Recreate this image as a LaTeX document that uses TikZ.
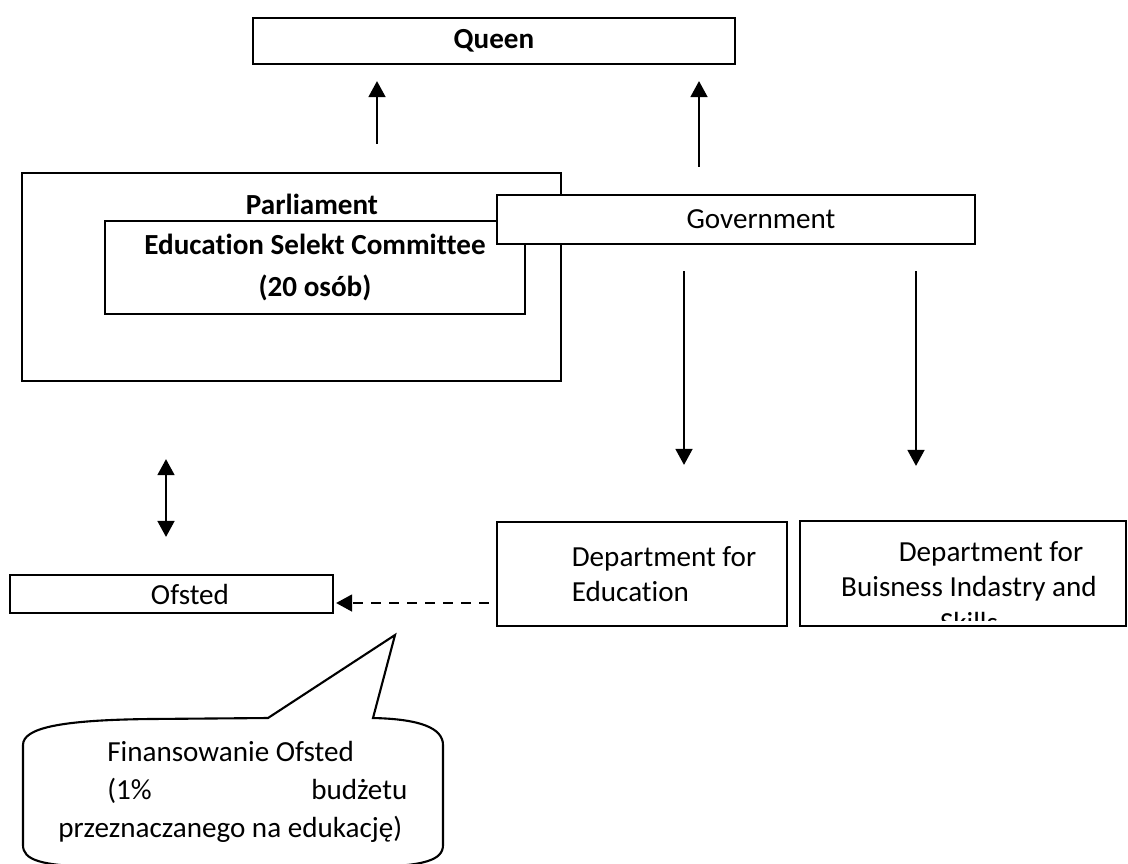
\documentclass[tikz,border=0pt]{standalone}
\usepackage{fontspec}
\setmainfont{Carlito}[Ligatures=NoCommon]
\usetikzlibrary{arrows.meta}

\tikzset{
  box/.style={draw, line width=1.5pt, fill=white, inner sep=0pt},
  arr/.style={-{Triangle[length=0.4cm,width=0.42cm]}, line width=1.6pt},
  dblarr/.style={{Triangle[length=0.4cm,width=0.42cm]}-{Triangle[length=0.4cm,width=0.42cm]}, line width=1.6pt}
}

\begin{document}
\begin{tikzpicture}[x=0.025cm, y=-0.025cm, font=\fontsize{20.7}{25}\selectfont]
	\useasboundingbox (0,0) rectangle (1128,863);
	\clip (0,0) rectangle (1128,863);

	% boxes
	\node[box, minimum width=12.05cm, minimum height=1.15cm, font=\fontsize{20.7}{25}\selectfont\bfseries] (queen) at (494,41) {Queen};
	\node[box, minimum width=13.475cm, minimum height=5.2cm] (parl) at (291.5,277) {};
	\node[font=\fontsize{20.7}{25}\selectfont\bfseries] (parltitle) at (312,204) {Parliament};
	\node[box, minimum width=10.5cm, minimum height=2.325cm, align=center, font=\fontsize{20.7}{30}\selectfont\bfseries] (comm) at (315,267.5) {Education Selekt Committee\\(20 osób)};
	\node[box, minimum width=11.95cm, minimum height=1.225cm] (gov) at (736,219.5) {\hspace*{1.25cm}Government};
	\node[box, minimum width=8.075cm, minimum height=0.95cm] (ofsted) at (171.5,594) {\hspace*{0.925cm}Ofsted};
	\node[box, minimum width=7.25cm, minimum height=2.6cm, align=left] (dedu) at (642,574) {\hspace*{1.1cm}Department for\\\hspace*{1.1cm}Education};
	\node[box, minimum width=8.15cm, minimum height=2.625cm] (dbis) at (963,573.5) {};
	\begin{scope}
		\clip (dbis.north west) rectangle ([shift={(0,-7)}]dbis.south east);
		\node[align=center] (dbistext) at (969,587) {\hspace*{1.1cm}Department for\\Buisness Indastry and\\Skills};
	\end{scope}

	% connectors
	\draw[arr, shorten <=0.7cm, shorten >=0.4cm] (parl.north -| 377,0) -- (queen.south -| 377,0);
	\draw[arr, shorten <=0.675cm, shorten >=0.4cm] (gov.north -| 699,0) -- (queen.south -| 699,0);
	\draw[arr, shorten <=0.65cm, shorten >=1.4cm] (gov.south -| 684,0) -- (dedu.north -| 684,0);
	\draw[arr, shorten <=0.65cm, shorten >=1.35cm] (gov.south -| 916,0) -- (dbis.north -| 916,0);
	\draw[dblarr, shorten <=1.925cm, shorten >=0.925cm] (parl.south -| 166,0) -- (ofsted.north -| 166,0);
	\draw[arr, dash pattern=on 0.25cm off 0.2cm, shorten <=0.175cm, shorten >=0.05cm] (dedu.west |- 0,603) -- (ofsted.east |- 0,603);

	% callout
	\draw[line width=1.5pt, fill=white] (268,718) -- (395,635) -- (373,718)
		.. controls (420,719) and (443,728) .. (443,745) -- (443,845)
		.. controls (443,860) and (425,866) .. (370,867) -- (100,867)
		.. controls (40,866) and (23,860) .. (23,845) -- (23,745)
		.. controls (23,728) and (60,720) .. (150,719) -- cycle;
	\node[align=left, anchor=west, inner sep=0pt, font=\fontsize{20.7}{27}\selectfont] (fund) at (58,792) {\hspace*{1.225cm}Finansowanie Ofsted\\\hspace*{1.225cm}\makebox[7.5cm]{(1\%\hfill budżetu}\\przeznaczanego na edukację)};
\end{tikzpicture}
\end{document}
